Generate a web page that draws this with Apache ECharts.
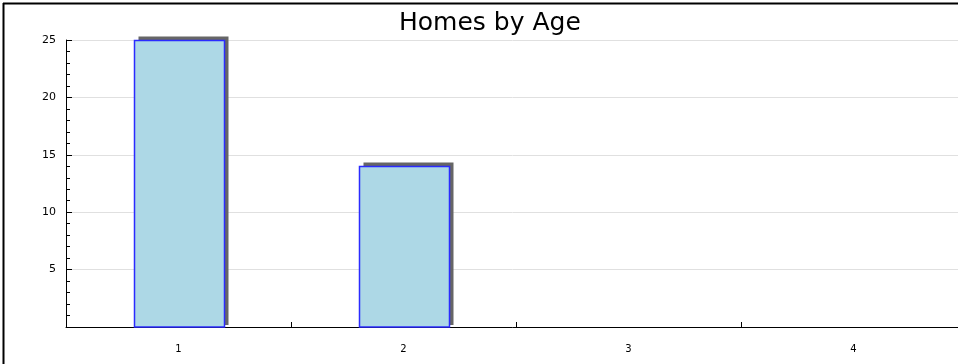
<!DOCTYPE html>
<html>
<head>
<meta charset="utf-8">
<script src="https://cdn.jsdelivr.net/npm/echarts@6/dist/echarts.min.js"></script>
<style>
  html, body { margin: 0; padding: 0; background: #fff; }
  #chart { width: 958px; height: 364px; }
</style>
</head>
<body>
<div id="chart"></div>
<script>
// data
const categories = ['1', '2', '3', '4']
const homes = [25, 14, 0, 0]
const yTicks = { min: 0, max: 25, step: 5 }

// bar with a flat drop shadow up and to the right
function renderBar(params, api) {
  const val = api.value(1)
  if (!val) return null
  const top = api.coord([api.value(0), val])
  const base = api.coord([api.value(0), 0])
  const w = api.size([1, 0])[0] * 0.4
  const x = Math.round(top[0] - w / 2) + 0.5
  const y = Math.round(top[1]) + 0.5
  const h = base[1] - y
  return {
    type: 'group',
    children: [
      { type: 'rect', shape: { x: x + 4, y: y - 4, width: w, height: h + 2 }, style: { fill: '#666' } },
      { type: 'rect', shape: { x: x, y: y, width: w, height: h }, style: { fill: '#add8e6', stroke: '#2b2bff', lineWidth: 1.5 } },
    ],
  }
}

const chart = echarts.init(document.getElementById('chart'))
const option = {
  animation: false,
  title: {
    text: 'Homes by Age',
    left: 394,
    top: 6,
    textStyle: { fontFamily: 'DejaVu Sans', fontSize: 25, fontWeight: 'normal', color: '#000' },
  },
  grid: { left: 66, width: 900, top: 40, bottom: 37, containLabel: false, outerBoundsMode: 'none' },
  xAxis: {
    type: 'category',
    data: categories,
    axisLine: { lineStyle: { color: '#000', width: 1 } },
    axisTick: { show: true, inside: true, length: 5, lineStyle: { color: '#000', width: 1 } },
    axisLabel: { fontFamily: 'DejaVu Sans', fontSize: 10, color: '#000', margin: 17 },
  },
  yAxis: {
    type: 'value',
    min: yTicks.min,
    max: yTicks.max,
    interval: yTicks.step,
    axisLine: { show: true, lineStyle: { color: '#000', width: 1 } },
    axisTick: { show: true, inside: true, length: 6, lineStyle: { color: '#000' } },
    minorTick: { show: true, splitNumber: 5, length: 4, lineStyle: { color: '#000' } },
    splitLine: { lineStyle: { color: '#e0e0e0' } },
    axisLabel: {
      fontFamily: 'DejaVu Sans', fontSize: 11, color: '#000', margin: 10,
      formatter: v => (v === 0 ? '' : v),
    },
  },
  graphic: [
    { type: 'line', shape: { x1: 3.5, y1: 3, x2: 3.5, y2: 364 }, style: { stroke: '#000', lineWidth: 2 } },
    { type: 'line', shape: { x1: 3, y1: 3.5, x2: 958, y2: 3.5 }, style: { stroke: '#000', lineWidth: 2 } },
  ],
  series: [
    {
      type: 'custom',
      renderItem: renderBar,
      encode: { x: 0, y: 1 },
      data: homes.map((v, i) => [i, v]),
    },
  ],
}
chart.setOption(option)
</script>
</body>
</html>
